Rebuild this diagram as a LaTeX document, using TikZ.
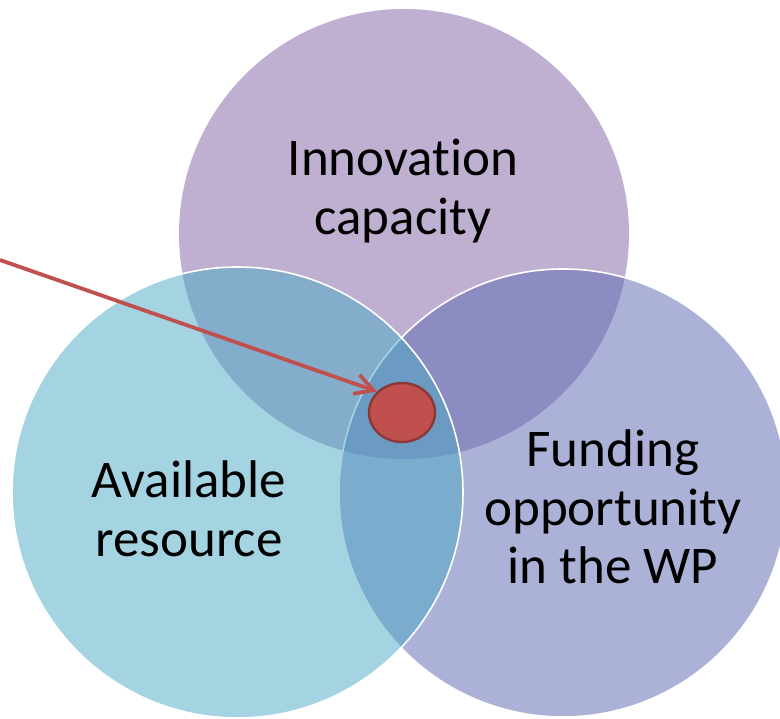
\documentclass[tikz,border=0pt]{standalone}
\usepackage{fontspec}
\setmainfont{Carlito}[Ligatures=NoCommon]
\usetikzlibrary{shapes.geometric,arrows.meta}
\definecolor{purplefill}{RGB}{191,176,210}
\definecolor{lavfill}{RGB}{92,105,179}
\definecolor{cyanfill}{RGB}{75,171,197}
\definecolor{dotred}{RGB}{192,80,77}
\definecolor{dotedge}{RGB}{140,56,54}
\tikzset{
  vennlabel/.style={align=center, inner sep=0pt, text=black, font=\fontsize{53}{58.5}\selectfont},
  venncircle/.style={draw=white, line width=1.6pt, fill opacity=0.5},
}
\begin{document}
\begin{tikzpicture}[x=1pt,y=-1pt]
\clip (0,0) rectangle (780,719);
\fill[white] (0,0) rectangle (780,719);
% circles
\fill[purplefill] (404,234) circle[radius=225];
\filldraw[venncircle, fill=lavfill, fill opacity=0.515] (563,493) circle[radius=224];
\filldraw[venncircle, fill=cyanfill] (237.5,492.5) circle[radius=225.5];
% labels
\node[vennlabel] (innov) at (403,191) {Innovation\\capacity};
\node[vennlabel] (avail) at (189,509) {Available\\resource};
\node[vennlabel] (fund) at (613,507) {Funding\\opportunity\\in the WP};
% red dot and arrow
\node[ellipse, draw=dotedge, fill=dotred, line width=2.4pt, minimum width=66pt, minimum height=59pt, inner sep=0pt] (dot) at (402,412.5) {};
\coordinate (start) at (0,260);
\draw[dotred, line width=3.8pt, -{Straight Barb[length=18pt,width=20pt,line width=3.8pt]}] (start) -- (dot.140);
\end{tikzpicture}
\end{document}
